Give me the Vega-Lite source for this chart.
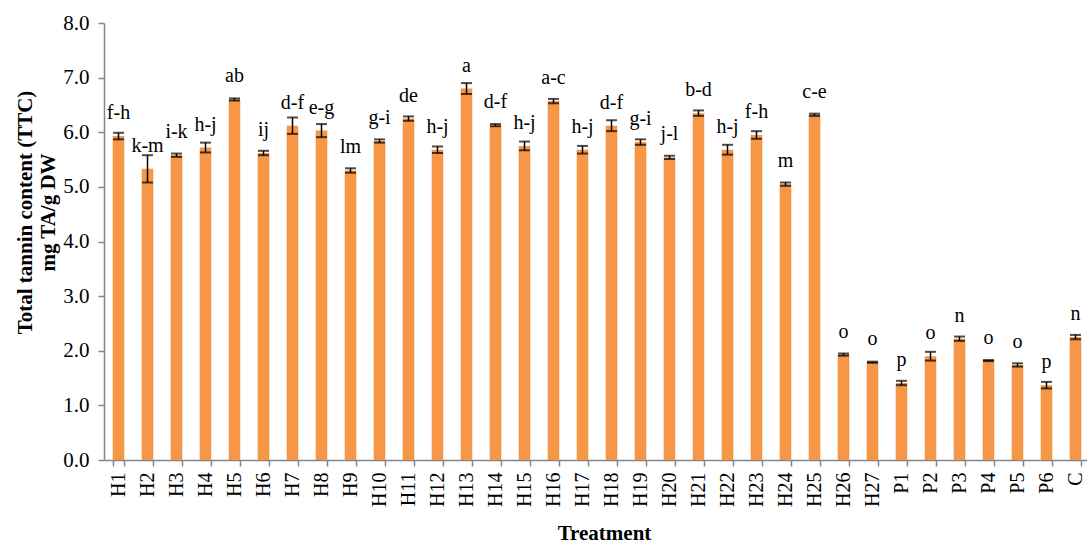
{
  "$schema": "https://vega.github.io/schema/vega-lite/v6.json",
  "width": 986,
  "height": 437,
  "autosize": "none",
  "padding": {"left": 104, "top": 23, "right": 0, "bottom": 86},
  "background": "#ffffff",
  "config": {
    "view": {"stroke": null},
    "font": "Liberation Serif",
    "axis": {
      "labelFont": "Liberation Serif",
      "titleFont": "Liberation Serif",
      "labelFontSize": 20,
      "titleFontSize": 20,
      "labelColor": "#000000",
      "titleColor": "#000000",
      "domainColor": "#868686",
      "tickColor": "#868686",
      "domainWidth": 1.5,
      "tickWidth": 1.5,
      "tickSize": 6,
      "grid": false
    }
  },
  "data": {
    "values": [
      {"treatment": "H1", "ttc": 5.93, "lo": 5.87, "hi": 5.99, "group": "f-h"},
      {"treatment": "H2", "ttc": 5.33, "lo": 5.08, "hi": 5.58, "group": "k-m"},
      {"treatment": "H3", "ttc": 5.58, "lo": 5.55, "hi": 5.61, "group": "i-k"},
      {"treatment": "H4", "ttc": 5.72, "lo": 5.63, "hi": 5.81, "group": "h-j"},
      {"treatment": "H5", "ttc": 6.60, "lo": 6.58, "hi": 6.62, "group": "ab"},
      {"treatment": "H6", "ttc": 5.62, "lo": 5.58, "hi": 5.66, "group": "ij"},
      {"treatment": "H7", "ttc": 6.12, "lo": 5.97, "hi": 6.27, "group": "d-f"},
      {"treatment": "H8", "ttc": 6.03, "lo": 5.91, "hi": 6.15, "group": "e-g"},
      {"treatment": "H9", "ttc": 5.30, "lo": 5.26, "hi": 5.34, "group": "lm"},
      {"treatment": "H10", "ttc": 5.84, "lo": 5.81, "hi": 5.87, "group": "g-i"},
      {"treatment": "H11", "ttc": 6.25, "lo": 6.21, "hi": 6.29, "group": "de"},
      {"treatment": "H12", "ttc": 5.68, "lo": 5.62, "hi": 5.74, "group": "h-j"},
      {"treatment": "H13", "ttc": 6.80, "lo": 6.70, "hi": 6.90, "group": "a"},
      {"treatment": "H14", "ttc": 6.13, "lo": 6.11, "hi": 6.15, "group": "d-f"},
      {"treatment": "H15", "ttc": 5.75, "lo": 5.67, "hi": 5.83, "group": "h-j"},
      {"treatment": "H16", "ttc": 6.57, "lo": 6.53, "hi": 6.61, "group": "a-c"},
      {"treatment": "H17", "ttc": 5.68, "lo": 5.61, "hi": 5.75, "group": "h-j"},
      {"treatment": "H18", "ttc": 6.12, "lo": 6.02, "hi": 6.22, "group": "d-f"},
      {"treatment": "H19", "ttc": 5.82, "lo": 5.77, "hi": 5.87, "group": "g-i"},
      {"treatment": "H20", "ttc": 5.54, "lo": 5.51, "hi": 5.57, "group": "j-l"},
      {"treatment": "H21", "ttc": 6.35, "lo": 6.30, "hi": 6.40, "group": "b-d"},
      {"treatment": "H22", "ttc": 5.68, "lo": 5.59, "hi": 5.77, "group": "h-j"},
      {"treatment": "H23", "ttc": 5.95, "lo": 5.88, "hi": 6.02, "group": "f-h"},
      {"treatment": "H24", "ttc": 5.05, "lo": 5.02, "hi": 5.08, "group": "m"},
      {"treatment": "H25", "ttc": 6.32, "lo": 6.30, "hi": 6.34, "group": "c-e"},
      {"treatment": "H26", "ttc": 1.93, "lo": 1.91, "hi": 1.95, "group": "o"},
      {"treatment": "H27", "ttc": 1.79, "lo": 1.78, "hi": 1.80, "group": "o"},
      {"treatment": "P1", "ttc": 1.41, "lo": 1.37, "hi": 1.45, "group": "p"},
      {"treatment": "P2", "ttc": 1.90, "lo": 1.82, "hi": 1.98, "group": "o"},
      {"treatment": "P3", "ttc": 2.22, "lo": 2.18, "hi": 2.26, "group": "n"},
      {"treatment": "P4", "ttc": 1.82, "lo": 1.81, "hi": 1.83, "group": "o"},
      {"treatment": "P5", "ttc": 1.74, "lo": 1.71, "hi": 1.77, "group": "o"},
      {"treatment": "P6", "ttc": 1.37, "lo": 1.31, "hi": 1.43, "group": "p"},
      {"treatment": "C", "ttc": 2.25, "lo": 2.21, "hi": 2.29, "group": "n"}
    ]
  },
  "encoding": {
    "x": {
      "field": "treatment",
      "type": "nominal",
      "sort": null,
      "scale": {"paddingInner": 0.6, "paddingOuter": 0.3},
      "axis": {
        "title": "Treatment",
        "titleFontWeight": "bold",
        "titleFontSize": 21,
        "titleX": 500,
        "titleY": 73,
        "titleBaseline": "middle",
        "labelAngle": -90,
        "labelAlign": "right",
        "labelBaseline": "middle",
        "labelPadding": 6,
        "tickBand": "extent"
      }
    }
  },
  "layer": [
    {
      "mark": {"type": "bar", "color": "#F79646"},
      "encoding": {
        "y": {
          "field": "ttc",
          "type": "quantitative",
          "scale": {"domain": [0, 8]},
          "axis": {
            "title": ["Total tannin content (TTC)", "mg TA/g DW"],
            "titleFontWeight": "bold",
            "titleFontSize": 21,
            "titleLineHeight": 23,
            "titleX": -79,
            "titleY": 189,
            "titleAlign": "center",
            "titleBaseline": "middle",
            "titleAngle": -90,
            "values": [0, 1, 2, 3, 4, 5, 6, 7, 8],
            "format": ".1f",
            "labelFontSize": 21,
            "labelPadding": 9
          }
        }
      }
    },
    {
      "mark": {"type": "rule", "color": "#000000", "strokeWidth": 1.5},
      "encoding": {
        "y": {"field": "lo", "type": "quantitative"},
        "y2": {"field": "hi"}
      }
    },
    {
      "mark": {"type": "tick", "color": "#000000", "orient": "horizontal", "size": 11, "thickness": 2},
      "encoding": {"y": {"field": "lo", "type": "quantitative"}}
    },
    {
      "mark": {"type": "tick", "color": "#000000", "orient": "horizontal", "size": 11, "thickness": 2},
      "encoding": {"y": {"field": "hi", "type": "quantitative"}}
    },
    {
      "mark": {"type": "text", "fontSize": 20, "baseline": "alphabetic", "dy": -17, "color": "#000000"},
      "encoding": {
        "y": {"field": "ttc", "type": "quantitative"},
        "text": {"field": "group", "type": "nominal"}
      }
    }
  ]
}
